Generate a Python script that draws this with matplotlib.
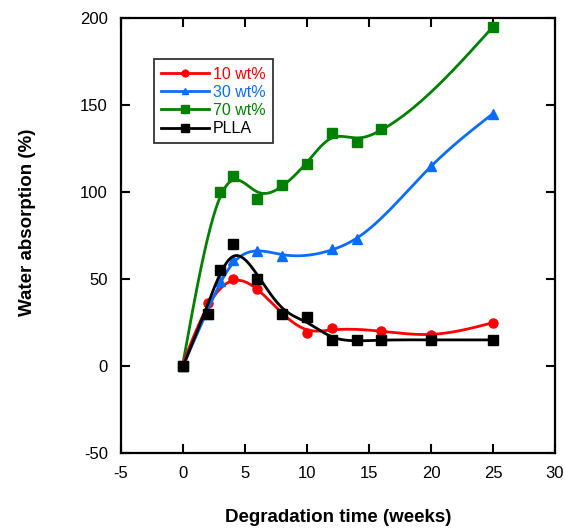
import numpy as np
import matplotlib
matplotlib.use("Agg")
import matplotlib.pyplot as plt

plt.rcParams['font.family'] = ['Liberation Sans', 'DejaVu Sans']
plt.rcParams['axes.unicode_minus'] = False

# Water absorption (%) versus degradation time (weeks)
x_10 = [0, 2, 4, 6, 8, 10, 12, 16, 20, 25]
y_10 = [0, 36, 50, 44, 30, 19, 22, 20, 18, 25]

x_30 = [0, 2, 3, 4, 6, 8, 12, 14, 20, 25]
y_30 = [0, 30, 49, 61, 66, 63, 67, 73, 115, 145]

x_70 = [0, 3, 4, 6, 8, 10, 12, 14, 16, 25]
y_70 = [0, 100, 109, 96, 104, 116, 134, 129, 136, 195]

x_plla = [0, 2, 3, 4, 6, 8, 10, 12, 14, 16, 20, 25]
y_plla = [0, 30, 55, 70, 50, 30, 28, 15, 15, 15, 15, 15]

labels = ['10 wt%', '30 wt%', '70 wt%', 'PLLA']
colors = ['#ff0000', '#0a6cff', '#008000', '#000000']
markers = ['o', '^', 's', 's']
msizes = [6.5, 6.5, 7.5, 7.5]
stiffness = [0.6, 0.6, 0.35, 0.6]


def smooth_curve(xs, ys, lam, step=0.05):
    """Penalised (smoothing-spline style) curve through the points."""
    xs = np.asarray(xs, float)
    ys = np.asarray(ys, float)
    grid = np.arange(xs.min(), xs.max() + step / 2, step)
    n = len(grid)
    idx = np.rint((xs - grid[0]) / step).astype(int)
    W = np.zeros((n, n))
    b = np.zeros(n)
    for i, y in zip(idx, ys):
        W[i, i] += 1.0
        b[i] += y
    D = np.zeros((n - 2, n))
    for k in range(n - 2):
        D[k, k:k + 3] = [1.0, -2.0, 1.0]
    A = W + lam / step ** 3 * (D.T @ D)
    return grid, np.linalg.solve(A, b)


fig = plt.figure(figsize=(5.65, 5.28), dpi=100)
ax = fig.add_axes([0.2142, 0.1420, 0.7681, 0.8239])

series = [(x_10, y_10), (x_30, y_30), (x_70, y_70), (x_plla, y_plla)]
zorders = [3, 4, 2, 5]
handles = []
for (xs, ys), lab, c, m, ms, z, lam in zip(series, labels, colors, markers,
                                           msizes, zorders, stiffness):
    gx, gy = smooth_curve(xs, ys, lam)
    ax.plot(gx, gy, color=c, lw=2.0, zorder=z, solid_capstyle='round')
    ax.plot(xs, ys, linestyle='none', marker=m, ms=ms, color=c, zorder=z)
    h, = ax.plot([], [], color=c, lw=2.0, marker=m, ms=ms * 0.75, label=lab)
    handles.append(h)

ax.set_xlim(-5, 30)
ax.set_ylim(-50, 200)
ax.set_xticks(np.arange(-5, 31, 5))
ax.set_yticks(np.arange(-50, 201, 50))

for s in ax.spines.values():
    s.set_linewidth(1.6)
ax.tick_params(direction='in', length=6.5, width=1.5, top=True, right=True,
               labelsize=12, pad=9.5)

ax.set_xlabel('Degradation time (weeks)', fontsize=13.5, fontweight='bold')
ax.set_ylabel('Water absorption (%)', fontsize=13.5, fontweight='bold')
ax.xaxis.set_label_coords(0.5, -0.128)
ax.yaxis.set_label_coords(-0.196, 0.531)

leg = ax.legend(handles=handles, loc='upper left',
                bbox_to_anchor=(0.076, 0.905), fontsize=11.5,
                frameon=True, fancybox=False, handlelength=3.0,
                handletextpad=0.25, borderpad=0.45, labelspacing=0.2,
                borderaxespad=0)
leg.get_frame().set_edgecolor('black')
leg.get_frame().set_linewidth(1.3)
for t, c in zip(leg.get_texts(), colors):
    t.set_color(c)

fig.savefig('out.png', dpi=100)
